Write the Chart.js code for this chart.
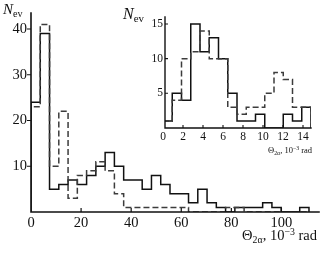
<!DOCTYPE html>
<html><head><meta charset="utf-8">
<script src="https://cdn.jsdelivr.net/npm/chart.js@4/dist/chart.umd.min.js"></script>
<style>
html,body{margin:0;padding:0;background:#fff;}
#wrap{position:relative;width:332px;height:253px;font-family:"Liberation Serif","DejaVu Serif",serif;color:#111;overflow:hidden;}
#main{position:absolute;left:0;top:0;}
#inset{position:absolute;left:120px;top:0;}
.lbl{position:absolute;white-space:nowrap;line-height:1;}
.lbl sub,.lbl sup{font-size:68%;line-height:0;position:relative;vertical-align:baseline;}
.lbl sub{top:0.3em;}
.lbl sup{top:-0.5em;}
</style></head><body>
<div id="wrap">
<canvas id="main" width="332" height="253"></canvas>
<canvas id="inset" width="212" height="160"></canvas>
<div class="lbl" style="left:3px;top:2px;font-size:15px"><i>N</i><sub>ev</sub></div>
<div class="lbl" style="left:123px;top:6px;font-size:16px"><i>N</i><sub>ev</sub></div>
<div class="lbl" style="right:15px;top:228px;font-size:14.5px">&Theta;<sub>2&alpha;</sub>, 10<sup>&minus;3</sup> rad</div>
<div class="lbl" style="right:20px;top:146px;font-size:8.5px">&Theta;<sub>2&alpha;</sub>, 10<sup>&minus;3</sup> rad</div>
</div>
<script>
// ---- data ----
const mainBinWidth = 3.7;      // 10^-3 rad
const mainSolid  = [24,39,5,6,7,6,8,10,13,10,7,7,5,8,6,4,4,2,5,2,1,0,1,1,1,2,1,0,0,1];
const mainDashed = [23,41,10,22,3,8,9,11,9,4,1,1,1,1,1,1,1,0,0,0,0,1,1,0,0,0,0,0,0,0];
const mainXTicks = [0,20,40,60,80,100];
const mainYTicks = [10,20,30,40];

const insetBinWidth = 0.925;   // 10^-3 rad
const insetSolid  = [1,5,4,15,11,13,10,5,1,1,2,0,0,2,1,3];
const insetDashed = [1,4,10,11,14,10,10,3,2,3,3,5,8,7,3,3];
const insetXTicks = [0,2,4,6,8,10,12,14];
const insetYTicks = [5,10,15];

function histPoints(values, w){
  const pts=[{x:0,y:0}];
  values.forEach((v,i)=>pts.push({x:i*w,y:v}));
  pts.push({x:values.length*w,y:0});
  return pts;
}

const axesPlugin = {
  id:'axesTicks',
  afterDraw(chart, args, o){
    const {ctx, chartArea:a, scales:{x,y}} = chart;
    ctx.save();
    ctx.strokeStyle='#111'; ctx.lineWidth=o.lw; ctx.lineCap='square';
    ctx.beginPath();
    ctx.moveTo(a.left,a.top); ctx.lineTo(a.left,a.bottom); ctx.lineTo(a.right,a.bottom);
    ctx.stroke();
    ctx.lineCap='butt'; ctx.lineWidth=o.tw;
    ctx.beginPath();
    x.ticks.forEach(t=>{const px=x.getPixelForValue(t.value); if(px<a.left+1) return; ctx.moveTo(px,a.bottom); ctx.lineTo(px,a.bottom-o.xLen);});
    y.ticks.forEach(t=>{const py=y.getPixelForValue(t.value); ctx.moveTo(a.left,py); ctx.lineTo(a.left+o.yLen,py);});
    ctx.stroke();
    ctx.restore();
  }
};

function ds(points, dashed){
  return {data:points, stepped:true, borderColor: dashed?'#3c3c3c':'#111', borderWidth:1.5,
    borderDash: dashed?[6,3]:[], pointRadius:0, fill:false, tension:0};
}

function makeChart(id, o){
  return new Chart(document.getElementById(id), {
    type:'line',
    data:{datasets:[ds(histPoints(o.dashed,o.bw),true), ds(histPoints(o.solid,o.bw),false)]},
    options:{
      responsive:false, animation:false, events:[],
      layout:{padding:o.pad},
      plugins:{legend:{display:false}, tooltip:{enabled:false}, axesTicks:o.axes},
      scales:{
        x:{type:'linear', min:o.xmin, max:o.xmax,
           afterBuildTicks:s=>{s.ticks=o.xt.map(v=>({value:v}));},
           afterFit:s=>{s.height=o.xh;},
           grid:{display:false, drawTicks:false}, border:{display:false},
           ticks:{color:'#111', font:{family:'Liberation Serif', size:o.fs}, padding:o.xpad, maxRotation:0, autoSkip:false}},
        y:{type:'linear', min:0, max:o.ymax,
           afterBuildTicks:s=>{s.ticks=o.yt.map(v=>({value:v}));},
           afterFit:s=>{s.width=o.yw;},
           grid:{display:false, drawTicks:false}, border:{display:false},
           ticks:{color:'#111', font:{family:'Liberation Serif', size:o.fs}, padding:o.ypad, autoSkip:false}}
      }
    },
    plugins:[axesPlugin]
  });
}

makeChart('main', {solid:mainSolid, dashed:mainDashed, bw:mainBinWidth, xt:mainXTicks, yt:mainYTicks,
  xmin:0, xmax:115, ymax:43.5, pad:{top:13,right:13,left:0,bottom:0}, xh:41, yw:31, fs:14.5, xpad:2, ypad:4,
  axes:{lw:1.6, tw:1.2, xLen:4, yLen:-4}});

makeChart('inset', {solid:insetSolid, dashed:insetDashed, bw:insetBinWidth, xt:insetXTicks, yt:insetYTicks,
  xmin:0.2, xmax:14.8, ymax:16, pad:{top:17,right:21,left:0,bottom:0}, xh:32, yw:45, fs:11.5, xpad:2, ypad:2,
  axes:{lw:1.4, tw:1.1, xLen:3, yLen:3}});
</script>
</body></html>
